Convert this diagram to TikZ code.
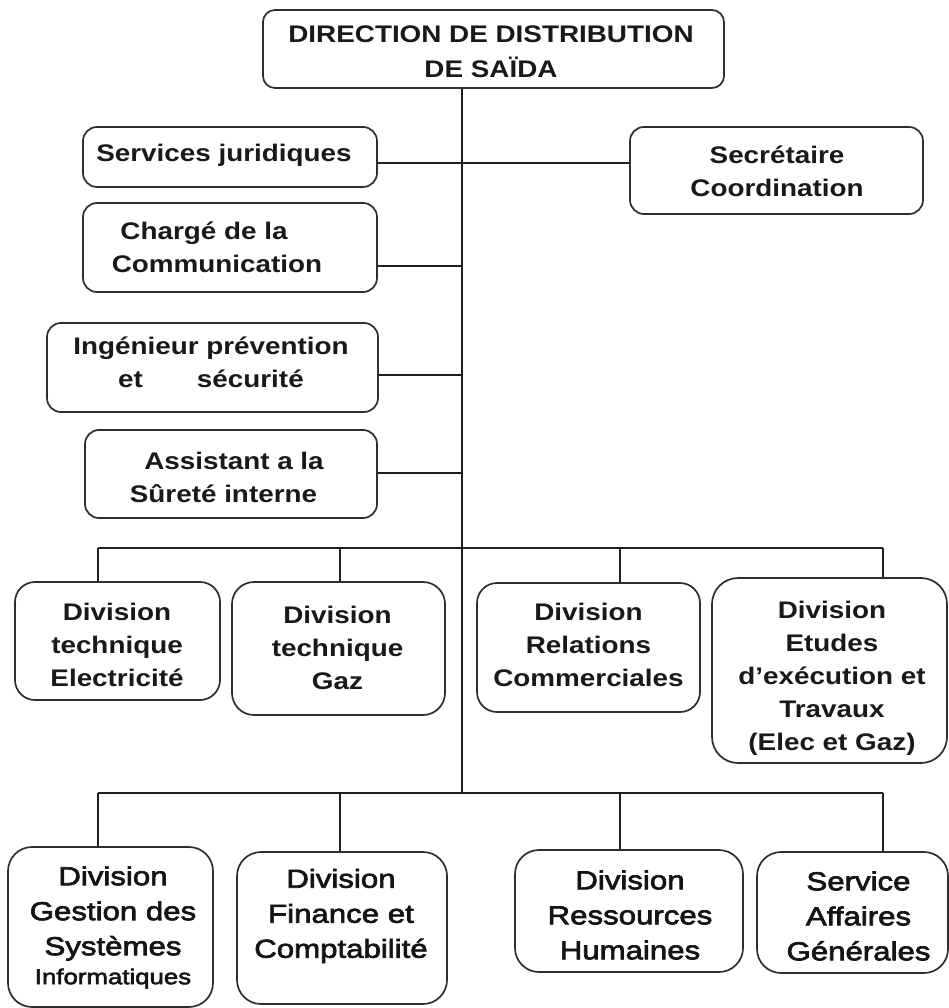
\documentclass[tikz,border=0pt]{standalone}
\usepackage{fontspec}
\setmainfont{Liberation Sans}[FakeStretch=1.16]
\newfontfamily\lowfont{Liberation Sans}[FakeStretch=1.2, FakeBold=2.6]
\begin{document}
\begin{tikzpicture}[x=1pt, y=-1pt,
  box/.style={draw=black!82, line width=1.7pt, rounded corners=14pt, fill=white, inner sep=0pt},
  lowbox/.style={box, rounded corners=24pt},
  txt/.style={align=center, inner sep=0pt, text=black!90,
    font=\bfseries\fontsize{24}{33}\selectfont},
  lowtxt/.style={align=center, inner sep=0pt, text=black!92,
    font=\lowfont\fontsize{26}{35}\selectfont},
  link/.style={draw=black!88, line width=1.8pt}]

\useasboundingbox (0,0) rectangle (949,1008);

% junction points on the trunk and the two buses
\coordinate (j1) at (462,163);
\coordinate (j2) at (462,266);
\coordinate (j3) at (462,375);
\coordinate (j4) at (462,473);
\coordinate (b1) at (462,548);
\coordinate (b2) at (462,793);
\coordinate (u1) at (98,548);
\coordinate (u2) at (340,548);
\coordinate (u3) at (620,548);
\coordinate (u4) at (883,548);
\coordinate (l1) at (98,793);
\coordinate (l2) at (340,793);
\coordinate (l3) at (620,793);
\coordinate (l4) at (883,793);

% boxes
\node[box, rounded corners=12pt, minimum width=461pt, minimum height=78pt] (top) at (493.5,49) {};
\node[box, minimum width=294pt, minimum height=60pt] (sj) at (230,157) {};
\node[box, minimum width=293pt, minimum height=87pt] (sc) at (776.5,170.5) {};
\node[box, minimum width=294pt, minimum height=89pt] (cc) at (230,247.5) {};
\node[box, minimum width=331pt, minimum height=89pt] (ing) at (212.5,367.5) {};
\node[box, minimum width=292pt, minimum height=88pt] (ast) at (231,474) {};
\node[box, rounded corners=20pt, minimum width=205pt, minimum height=118pt] (elec) at (117.5,641) {};
\node[box, rounded corners=22pt, minimum width=213pt, minimum height=133pt] (gaz) at (338.5,648.5) {};
\node[box, rounded corners=20pt, minimum width=223pt, minimum height=129pt] (rel) at (588.5,647.5) {};
\node[box, rounded corners=26pt, minimum width=235pt, minimum height=185pt] (etu) at (829.5,670.5) {};
\node[lowbox, minimum width=205pt, minimum height=160pt] (gsi) at (110.5,927) {};
\node[lowbox, minimum width=210pt, minimum height=152pt] (fin) at (342,928) {};
\node[lowbox, minimum width=228pt, minimum height=122pt] (rh) at (629,911) {};
\node[lowbox, minimum width=191pt, minimum height=121pt] (aff) at (852.5,912.5) {};

% texts
\node[txt, font=\bfseries\fontsize{24}{35}\selectfont] (top-t) at (491,52) {DIRECTION DE DISTRIBUTION\\DE SAÏDA};
\node[txt] (sj-t) at (224,155) {Services juridiques};
\node[txt] (sc-t) at (777,171) {Secrétaire\\Coordination};
\node[txt] (cc-t) at (217,247) {Chargé de la\hspace*{26pt}\\Communication};
\node[txt] (ing-t) at (211,362) {Ingénieur prévention\\et\hspace*{54pt}sécurité};
\node[txt] (ast-t) at (223.5,477.5) {\hspace*{21pt}Assistant a la\\Sûreté interne};
\node[txt] (elec-t) at (117,645) {Division\\technique\\Electricité};
\node[txt] (gaz-t) at (337.5,647.5) {Division\\technique\\Gaz};
\node[txt] (rel-t) at (588.5,645) {Division\\Relations\\Commerciales};
\node[txt] (etu-t) at (832,678) {Division\\Etudes\\d’exécution et\\Travaux\\(Elec et Gaz)};
\node[lowtxt] (gsi-t) at (113,927.5) {Division\\Gestion des\\Systèmes\\[-6pt]{\fontsize{21.5}{29}\selectfont Informatiques}};
\node[lowtxt] (fin-t) at (341,916) {Division\\Finance et\\Comptabilité};
\node[lowtxt] (rh-t) at (630,915) {Division\\Ressources\\Humaines};
\node[lowtxt] (aff-t) at (858.5,916) {Service\\Affaires\\Générales};

% trunk and side links
\draw[link] (top.south -| j1) -- (b2);
\draw[link] (sj.east |- j1) -- (sc.west |- j1);
\draw[link] (cc.east |- j2) -- (j2);
\draw[link] (ing.east |- j3) -- (j3);
\draw[link] (ast.east |- j4) -- (j4);

% upper bus
\draw[link] (u1) -- (u4);
\draw[link] (u1) -- (u1 |- elec.north);
\draw[link] (u2) -- (u2 |- gaz.north);
\draw[link] (u3) -- (u3 |- rel.north);
\draw[link] (u4) -- (u4 |- etu.north);

% lower bus
\draw[link] (l1) -- (l4);
\draw[link] (l1) -- (l1 |- gsi.north);
\draw[link] (l2) -- (l2 |- fin.north);
\draw[link] (l3) -- (l3 |- rh.north);
\draw[link] (l4) -- (l4 |- aff.north);
\end{tikzpicture}
\end{document}
